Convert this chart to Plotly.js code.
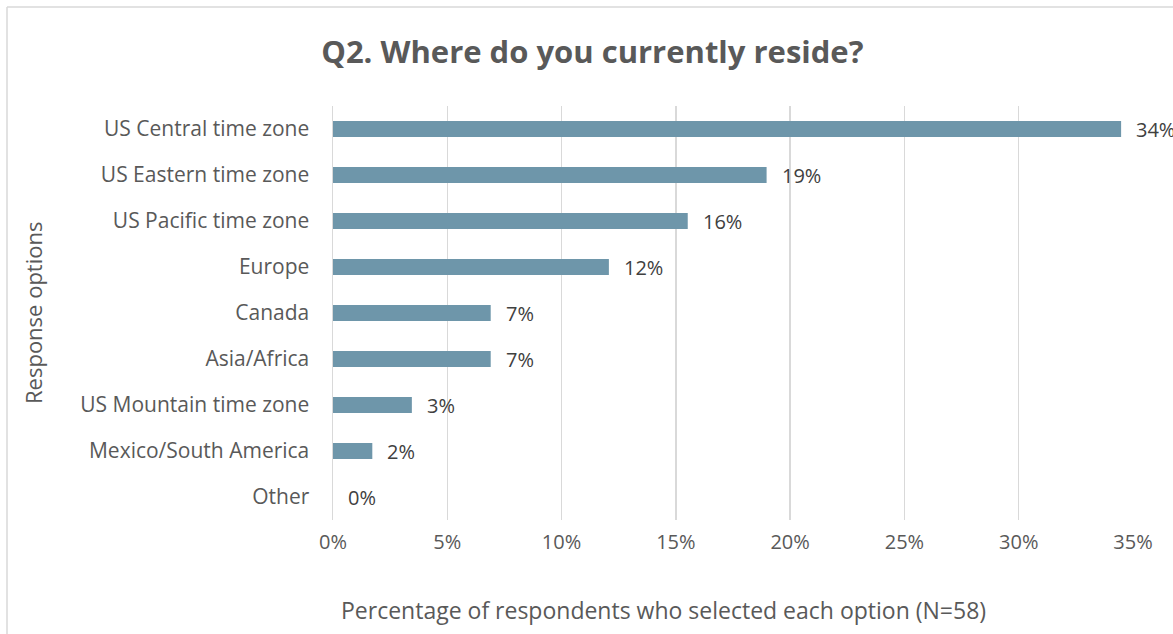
<!DOCTYPE html>
<html>
<head>
<meta charset="utf-8">
<script src="https://cdn.plot.ly/plotly-3.0.1.min.js"></script>
<style>html,body{margin:0;padding:0;background:#fff;}#chart{width:1173px;height:634px;}</style>
</head>
<body>
<div id="chart"></div>
<script>
// Data (percent of respondents, N=58)
const categories = ["US Central time zone","US Eastern time zone","US Pacific time zone","Europe","Canada","Asia/Africa","US Mountain time zone","Mexico/South America","Other"];
const percentValues = [34.48, 18.97, 15.52, 12.07, 6.90, 6.90, 3.45, 1.72, 0];
const tickValues = [0, 5, 10, 15, 20, 25, 30, 35];
const tickLabels = ["0%","5%","10%","15%","20%","25%","30%","35%"];
const valueLabels = percentValues.map(v => Math.round(v) + "%");

const FONT = "'Open Sans', 'Noto Sans', sans-serif";
const TXT = "#595959";

const trace = {
  type: "bar",
  orientation: "h",
  y: categories,
  x: percentValues,
  width: 0.35,
  marker: {color: "#6E96AA"},
  hoverinfo: "skip"
};

const annotations = categories.map((c, i) => ({
  x: percentValues[i], y: c, xref: "x", yref: "y",
  text: valueLabels[i], showarrow: false, xanchor: "left", yanchor: "middle",
  xshift: 13, font: {family: FONT, size: 20, color: "#404040"}
}));
annotations.push({
  x: (663-333)/800, y: (520-610)/414, xref: "paper", yref: "paper",
  text: "Percentage of respondents who selected each option (N=58)",
  showarrow: false, xanchor: "center", yanchor: "middle",
  font: {family: FONT, size: 23, color: TXT}
});
annotations.push({
  x: (33-333)/800, y: 0.5, xref: "paper", yref: "paper",
  text: "Response options", textangle: -90,
  showarrow: false, xanchor: "center", yanchor: "middle",
  font: {family: FONT, size: 22, color: TXT}
});

const layout = {
  width: 1173, height: 634,
  margin: {l: 333, r: 40, t: 106, b: 114},
  paper_bgcolor: "#fff", plot_bgcolor: "#fff",
  title: {text: "<b>Q2. Where do you currently reside?</b>", x: 0.505, xanchor: "center", y: 0.918, yanchor: "middle",
          font: {family: FONT, size: 31, color: TXT}},
  showlegend: false,
  xaxis: {
    range: [0, 35], tickvals: tickValues, ticktext: tickLabels,
    showgrid: true, gridcolor: "#D9D9D9", gridwidth: 1.5, zeroline: false,
    showline: false, ticks: "", ticklabelstandoff: 8,
    tickfont: {family: FONT, size: 20, color: TXT}, fixedrange: true
  },
  yaxis: {
    type: "category", autorange: "reversed",
    showline: true, linecolor: "#D9D9D9", linewidth: 1.5,
    ticks: "", ticklabelstandoff: 18,
    tickfont: {family: FONT, size: 21, color: TXT},
    fixedrange: true
  },
  annotations: annotations,
  shapes: [
    {type: "line", xref: "paper", yref: "paper", x0: (7-333)/800, x1: (1175-333)/800, y0: (520-7)/414, y1: (520-7)/414,
     line: {color: "#D9D9D9", width: 1.5}},
    {type: "line", xref: "paper", yref: "paper", x0: (7-333)/800, x1: (7-333)/800, y0: (520-7)/414, y1: (520-640)/414,
     line: {color: "#D9D9D9", width: 1.5}}
  ]
};

Plotly.newPlot("chart", [trace], layout, {displayModeBar: false, staticPlot: true});
</script>
</body>
</html>
